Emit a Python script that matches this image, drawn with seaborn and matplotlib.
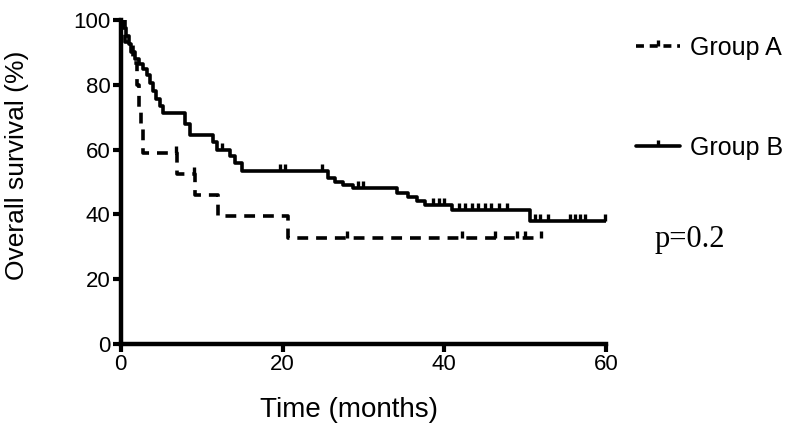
import numpy as np
import pandas as pd
import matplotlib
matplotlib.use("Agg")
import matplotlib.pyplot as plt
from matplotlib.lines import Line2D
import seaborn as sns

# ---- data ----
a_time = [0, 0.5, 1.5, 2.0, 2.3, 2.5, 2.7, 6.9, 9.2, 12.0, 20.7, 52.0]
a_surv = [100, 93.3, 86.7, 80.0, 73.3, 66.7, 59.0, 52.5, 46.0, 39.4, 32.8, 32.8]
a_cens = [6.8, 9.0, 28.0, 42.2, 46.3, 49.0, 50.0, 52.0]

b_time = [0, 0.3, 0.6, 1.0, 1.3, 1.7, 2.2, 2.7, 3.2, 3.6, 4.0, 4.4, 4.8, 5.2,
          7.9, 8.5, 11.4, 11.9, 13.5, 14.1, 15.0, 25.6, 26.5, 27.5, 28.7,
          34.2, 35.5, 36.6, 37.6, 41.0, 50.6, 60.0]
b_surv = [100, 97.5, 95.0, 92.5, 90.0, 88.0, 86.5, 85.0, 83.0, 80.5, 78.0,
          75.5, 73.5, 71.3, 67.8, 64.5, 62.2, 59.9, 58.0, 56.0, 53.5, 51.2,
          50.0, 49.0, 48.0, 46.6, 45.4, 44.2, 42.9, 41.4, 37.9, 37.9]
b_cens = [12.5, 19.7, 20.3, 24.9, 29.3, 30.0, 38.6, 39.3, 40.0, 41.8, 42.6,
          43.4, 44.2, 45.0, 45.8, 46.8, 47.8, 51.2, 51.9, 52.8, 55.6, 56.2,
          56.8, 57.4, 59.9]

labels = ["Group A", "Group B"]
x_ticks = [0, 20, 40, 60]
y_ticks = [0, 20, 40, 60, 80, 100]
p_text = "p=0.2"

# ---- figure ----
sns.set_theme(style="ticks")
plt.rcParams["font.family"] = ["Liberation Sans", "DejaVu Sans"]
plt.rcParams["text.color"] = "black"

fig = plt.figure(figsize=(8.0, 4.38), dpi=100)
ax = fig.add_axes([0.151, 0.2146, 0.6065, 0.7397])

df_a = pd.DataFrame({"t": a_time, "s": a_surv})
df_b = pd.DataFrame({"t": b_time, "s": b_surv})

lw = 2.6
dash = (0, (3.0, 2.2))
sns.lineplot(data=df_a, x="t", y="s", ax=ax, drawstyle="steps-post",
             estimator=None, color="black", lw=lw, linestyle=dash, legend=False)
sns.lineplot(data=df_b, x="t", y="s", ax=ax, drawstyle="steps-post",
             estimator=None, color="black", lw=lw, legend=False)


def step_val(times, surv, t):
    idx = np.searchsorted(times, t, side="right") - 1
    return np.asarray(surv)[idx]


ca_y = step_val(a_time, a_surv, a_cens)
cb_y = step_val(b_time, b_surv, b_cens)
ax.plot(a_cens, ca_y, linestyle="none", marker=2, ms=5, mew=2.4, color="black",
        clip_on=False)
ax.plot(b_cens, cb_y, linestyle="none", marker=2, ms=5, mew=2.4, color="black",
        clip_on=False)

ax.set_xlim(0, 60)
ax.set_ylim(0, 100)
ax.set_xticks(x_ticks)
ax.set_yticks(y_ticks)
ax.tick_params(axis="both", labelsize=16, width=3.0, length=5.5, color="black",
               labelcolor="black", pad=2)
for side in ["top", "right"]:
    ax.spines[side].set_visible(False)
for side in ["left", "bottom"]:
    ax.spines[side].set_linewidth(3.2)
    ax.spines[side].set_color("black")
ax.set_xlabel("Time (months)", fontsize=20, color="black")
ax.set_ylabel("Overall survival (%)", fontsize=19, color="black")
ax.xaxis.set_label_coords(0.47, -0.165)
ax.yaxis.set_label_coords(-0.19, 0.55)

h_a = Line2D([], [], color="black", lw=lw, linestyle=(0, (2.2, 1.6)),
             marker=2, ms=4, mew=2.4)
h_b = Line2D([], [], color="black", lw=lw, marker=2, ms=4, mew=2.4)
leg = fig.legend([h_a, h_b], labels, loc="upper left", numpoints=1,
                 bbox_to_anchor=(636 / 800, 0.918), frameon=False, fontsize=18,
                 labelspacing=3.05, handlelength=1.76, handletextpad=0.4,
                 borderpad=0, borderaxespad=0, labelcolor="black")

fig.text(0.818, 0.435, p_text, fontsize=22, family="Liberation Serif",
         color="black")

fig.savefig("out.png", dpi=100)
